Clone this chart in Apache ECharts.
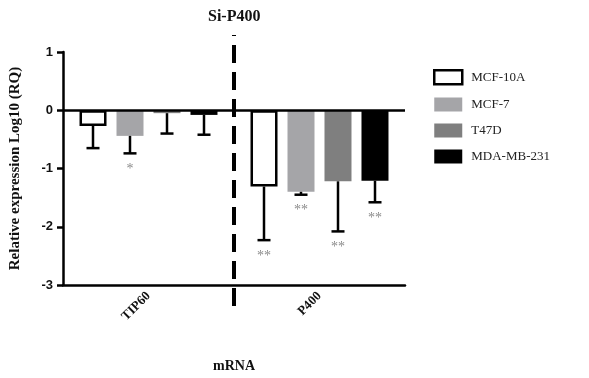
<!DOCTYPE html>
<html>
<head>
<meta charset="utf-8">
<script src="https://cdn.jsdelivr.net/npm/echarts@6/dist/echarts.min.js"></script>
<style>
  html, body { margin: 0; padding: 0; background: #fff; }
  #chart { width: 589px; height: 378px; }
</style>
</head>
<body>
<div id="chart"></div>
<script>
const categories = ["TIP60", "P400"];
const cellLines = ["MCF-10A", "MCF-7", "T47D", "MDA-MB-231"];
const yTicks = [-3, -2, -1, 0, 1];

// mean log10(RQ) and SD per cell line, order follows categories
const mcf10aMean = [-0.27, -1.31];
const mcf10aSd = [0.38, 0.92];
const mcf7Mean = [-0.44, -1.40];
const mcf7Sd = [0.30, 0.05];
const t47dMean = [-0.05, -1.22];
const t47dSd = [0.35, 0.86];
const mdaMean = [-0.08, -1.21];
const mdaSd = [0.34, 0.37];

// significance marks
const mcf10aSig = ["", "**"];
const mcf7Sig = ["*", "**"];
const t47dSig = ["", "**"];
const mdaSig = ["", "**"];

const means = [mcf10aMean, mcf7Mean, t47dMean, mdaMean];
const sds = [mcf10aSd, mcf7Sd, t47dSd, mdaSd];
const sigs = [mcf10aSig, mcf7Sig, t47dSig, mdaSig];

const barStyles = [
  { color: "#ffffff", borderColor: "#000000", borderWidth: 2.5 },
  { color: "#a5a5a8" },
  { color: "#7f7f7f" },
  { color: "#000000" },
];

const BAR_W = 27;
const BAR_GAP = 10;
const serif = "Liberation Serif";

const chart = echarts.init(document.getElementById("chart"));

const barSeries = cellLines.map((name, i) => ({
  name: name,
  type: "bar",
  data: means[i],
  barWidth: BAR_W,
  barGap: (BAR_GAP / BAR_W * 100).toFixed(1) + "%",
  itemStyle: barStyles[i],
  z: 2,
  markLine: i === 0 ? {
    silent: true,
    symbol: "none",
    label: { show: false },
    lineStyle: { color: "#000", width: 2.5, type: "solid" },
    data: [{ yAxis: 0 }],
  } : undefined,
}));

const errSeries = cellLines.map((name, i) => ({
  type: "custom",
  silent: true,
  z: 3,
  data: categories.map((c, k) => [k, means[i][k], means[i][k] - sds[i][k], sigs[i][k]]),
  renderItem: function (params, api) {
    const off = (i - 1.5) * (BAR_W + BAR_GAP);
    const top = api.coord([api.value(0), api.value(1)]);
    const low = api.coord([api.value(0), api.value(2)]);
    const x = top[0] + off;
    const s = { stroke: "#000", lineWidth: 2.5 };
    return {
      type: "group",
      children: [
        { type: "line", shape: { x1: x, y1: top[1], x2: x, y2: low[1] }, style: s },
        { type: "line", shape: { x1: x - 6.5, y1: low[1], x2: x + 6.5, y2: low[1] }, style: s },
        {
          type: "text",
          style: {
            text: sigs[i][params.dataIndex],
            x: x, y: low[1] + 16,
            align: "center", verticalAlign: "middle",
            fill: "#8a8a8a", font: "14px " + serif,
          },
        },
      ],
    };
  },
}));

// dashed divider between the two mRNA groups, drawn bottom-up
const dividerSeries = {
  type: "custom",
  silent: true,
  z: 4,
  data: [[0]],
  renderItem: function (params, api) {
    const a = api.coord([0, 1]);
    const b = api.coord([1, -3]);
    const x = (a[0] + b[0]) / 2;
    return {
      type: "line",
      shape: { x1: x, y1: b[1] + 21, x2: x, y2: a[1] - 17 },
      style: { stroke: "#000", lineWidth: 4, lineDash: [18, 9] },
    };
  },
};

chart.setOption({
  animation: false,
  backgroundColor: "#fff",
  title: {
    text: "Si-P400",
    left: 203,
    top: 4,
    textStyle: { fontFamily: serif, fontWeight: "bold", fontSize: 16, color: "#111" },
  },
  legend: {
    orient: "vertical",
    left: 428,
    top: 64,
    icon: "rect",
    itemWidth: 28,
    itemHeight: 14,
    itemGap: 12,
    data: cellLines.map((n, i) => ({ name: n, itemStyle: barStyles[i] })),
    textStyle: { fontFamily: serif, fontSize: 13, color: "#222", padding: [0, 0, 0, 4] },
  },
  grid: { left: 61, right: 184, top: 52, bottom: 91 },
  xAxis: {
    type: "category",
    data: categories,
    name: "mRNA",
    nameLocation: "middle",
    nameGap: 74,
    nameTextStyle: { fontFamily: serif, fontWeight: "bold", fontSize: 14, color: "#111" },
    axisLine: { onZero: false, lineStyle: { color: "#000", width: 2.5 } },
    axisTick: { alignWithLabel: true, length: 5, lineStyle: { color: "#000", width: 2.5 } },
    axisLabel: {
      rotate: 45, margin: 9,
      fontFamily: serif, fontWeight: "bold", fontSize: 13, color: "#111",
    },
  },
  yAxis: {
    type: "value",
    min: yTicks[0],
    max: yTicks[yTicks.length - 1],
    interval: 1,
    name: "Relative expression Log10 (RQ)",
    nameLocation: "middle",
    nameGap: 40,
    nameTextStyle: { fontFamily: serif, fontWeight: "bold", fontSize: 15, color: "#111" },
    splitLine: { show: false },
    axisLine: { show: true, lineStyle: { color: "#000", width: 2.5 } },
    axisTick: { show: true, length: 6, lineStyle: { color: "#000", width: 2.5 } },
    axisLabel: {
      margin: 10,
      fontFamily: "Liberation Sans", fontWeight: "bold", fontSize: 13, color: "#111",
    },
  },
  series: [...barSeries, ...errSeries, dividerSeries],
});

window.onresize = () => chart.resize();
</script>
</body>
</html>
